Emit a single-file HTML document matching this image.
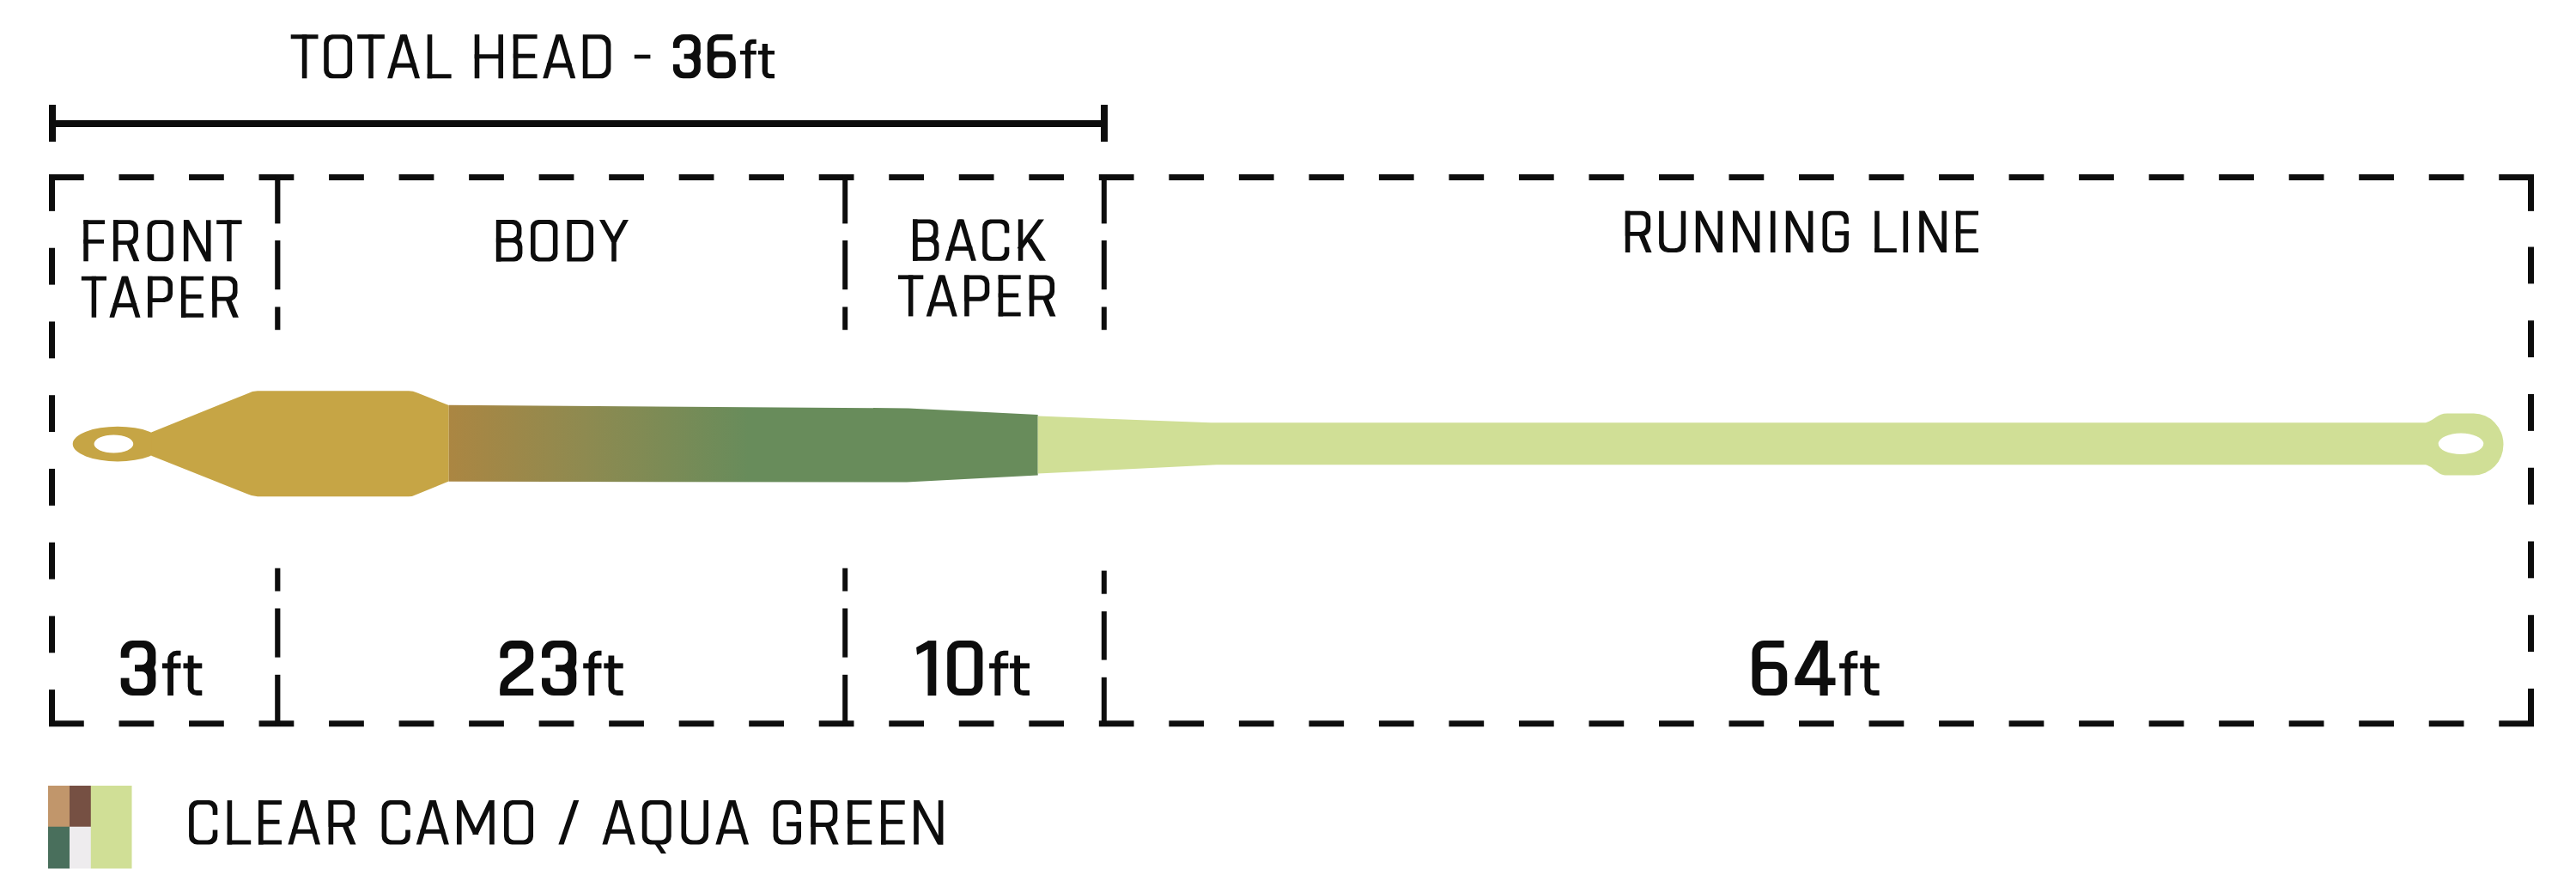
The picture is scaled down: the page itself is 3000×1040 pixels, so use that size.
<!DOCTYPE html><html><head><meta charset="utf-8"><style>html,body{margin:0;padding:0;background:#fff;}svg{display:block;}</style></head><body><svg width="3000" height="1040" viewBox="0 0 3000 1040"><rect width="3000" height="1040" fill="#fff"/><path d="M57 122H65V165H57Z" fill="#0d0d0d"/><path d="M1282 122H1290V165H1282Z" fill="#0d0d0d"/><path d="M64 140H1283V148H64Z" fill="#0d0d0d"/><path d="M57 203H97.76V210H57Z" fill="#0d0d0d"/><path d="M57 839.3H97.76V846.3H57Z" fill="#0d0d0d"/><path d="M138.52 203H179.28V210H138.52Z" fill="#0d0d0d"/><path d="M138.52 839.3H179.28V846.3H138.52Z" fill="#0d0d0d"/><path d="M220.04 203H260.8V210H220.04Z" fill="#0d0d0d"/><path d="M220.04 839.3H260.8V846.3H220.04Z" fill="#0d0d0d"/><path d="M301.56 203H342.32V210H301.56Z" fill="#0d0d0d"/><path d="M301.56 839.3H342.32V846.3H301.56Z" fill="#0d0d0d"/><path d="M383.08 203H423.85V210H383.08Z" fill="#0d0d0d"/><path d="M383.08 839.3H423.85V846.3H383.08Z" fill="#0d0d0d"/><path d="M464.61 203H505.37V210H464.61Z" fill="#0d0d0d"/><path d="M464.61 839.3H505.37V846.3H464.61Z" fill="#0d0d0d"/><path d="M546.13 203H586.89V210H546.13Z" fill="#0d0d0d"/><path d="M546.13 839.3H586.89V846.3H546.13Z" fill="#0d0d0d"/><path d="M627.65 203H668.41V210H627.65Z" fill="#0d0d0d"/><path d="M627.65 839.3H668.41V846.3H627.65Z" fill="#0d0d0d"/><path d="M709.17 203H749.93V210H709.17Z" fill="#0d0d0d"/><path d="M709.17 839.3H749.93V846.3H709.17Z" fill="#0d0d0d"/><path d="M790.69 203H831.45V210H790.69Z" fill="#0d0d0d"/><path d="M790.69 839.3H831.45V846.3H790.69Z" fill="#0d0d0d"/><path d="M872.21 203H912.97V210H872.21Z" fill="#0d0d0d"/><path d="M872.21 839.3H912.97V846.3H872.21Z" fill="#0d0d0d"/><path d="M953.73 203H994.49V210H953.73Z" fill="#0d0d0d"/><path d="M953.73 839.3H994.49V846.3H953.73Z" fill="#0d0d0d"/><path d="M1035.25 203H1076.01V210H1035.25Z" fill="#0d0d0d"/><path d="M1035.25 839.3H1076.01V846.3H1035.25Z" fill="#0d0d0d"/><path d="M1116.77 203H1157.54V210H1116.77Z" fill="#0d0d0d"/><path d="M1116.77 839.3H1157.54V846.3H1116.77Z" fill="#0d0d0d"/><path d="M1198.3 203H1239.06V210H1198.3Z" fill="#0d0d0d"/><path d="M1198.3 839.3H1239.06V846.3H1198.3Z" fill="#0d0d0d"/><path d="M1279.82 203H1320.58V210H1279.82Z" fill="#0d0d0d"/><path d="M1279.82 839.3H1320.58V846.3H1279.82Z" fill="#0d0d0d"/><path d="M1361.34 203H1402.1V210H1361.34Z" fill="#0d0d0d"/><path d="M1361.34 839.3H1402.1V846.3H1361.34Z" fill="#0d0d0d"/><path d="M1442.86 203H1483.62V210H1442.86Z" fill="#0d0d0d"/><path d="M1442.86 839.3H1483.62V846.3H1442.86Z" fill="#0d0d0d"/><path d="M1524.38 203H1565.14V210H1524.38Z" fill="#0d0d0d"/><path d="M1524.38 839.3H1565.14V846.3H1524.38Z" fill="#0d0d0d"/><path d="M1605.9 203H1646.66V210H1605.9Z" fill="#0d0d0d"/><path d="M1605.9 839.3H1646.66V846.3H1605.9Z" fill="#0d0d0d"/><path d="M1687.42 203H1728.18V210H1687.42Z" fill="#0d0d0d"/><path d="M1687.42 839.3H1728.18V846.3H1687.42Z" fill="#0d0d0d"/><path d="M1768.94 203H1809.7V210H1768.94Z" fill="#0d0d0d"/><path d="M1768.94 839.3H1809.7V846.3H1768.94Z" fill="#0d0d0d"/><path d="M1850.46 203H1891.23V210H1850.46Z" fill="#0d0d0d"/><path d="M1850.46 839.3H1891.23V846.3H1850.46Z" fill="#0d0d0d"/><path d="M1931.99 203H1972.75V210H1931.99Z" fill="#0d0d0d"/><path d="M1931.99 839.3H1972.75V846.3H1931.99Z" fill="#0d0d0d"/><path d="M2013.51 203H2054.27V210H2013.51Z" fill="#0d0d0d"/><path d="M2013.51 839.3H2054.27V846.3H2013.51Z" fill="#0d0d0d"/><path d="M2095.03 203H2135.79V210H2095.03Z" fill="#0d0d0d"/><path d="M2095.03 839.3H2135.79V846.3H2095.03Z" fill="#0d0d0d"/><path d="M2176.55 203H2217.31V210H2176.55Z" fill="#0d0d0d"/><path d="M2176.55 839.3H2217.31V846.3H2176.55Z" fill="#0d0d0d"/><path d="M2258.07 203H2298.83V210H2258.07Z" fill="#0d0d0d"/><path d="M2258.07 839.3H2298.83V846.3H2258.07Z" fill="#0d0d0d"/><path d="M2339.59 203H2380.35V210H2339.59Z" fill="#0d0d0d"/><path d="M2339.59 839.3H2380.35V846.3H2339.59Z" fill="#0d0d0d"/><path d="M2421.11 203H2461.87V210H2421.11Z" fill="#0d0d0d"/><path d="M2421.11 839.3H2461.87V846.3H2421.11Z" fill="#0d0d0d"/><path d="M2502.63 203H2543.39V210H2502.63Z" fill="#0d0d0d"/><path d="M2502.63 839.3H2543.39V846.3H2502.63Z" fill="#0d0d0d"/><path d="M2584.15 203H2624.92V210H2584.15Z" fill="#0d0d0d"/><path d="M2584.15 839.3H2624.92V846.3H2584.15Z" fill="#0d0d0d"/><path d="M2665.68 203H2706.44V210H2665.68Z" fill="#0d0d0d"/><path d="M2665.68 839.3H2706.44V846.3H2665.68Z" fill="#0d0d0d"/><path d="M2747.2 203H2787.96V210H2747.2Z" fill="#0d0d0d"/><path d="M2747.2 839.3H2787.96V846.3H2747.2Z" fill="#0d0d0d"/><path d="M2828.72 203H2869.48V210H2828.72Z" fill="#0d0d0d"/><path d="M2828.72 839.3H2869.48V846.3H2828.72Z" fill="#0d0d0d"/><path d="M2910.24 203H2951V210H2910.24Z" fill="#0d0d0d"/><path d="M2910.24 839.3H2951V846.3H2910.24Z" fill="#0d0d0d"/><path d="M57 203H64V245.87H57Z" fill="#0d0d0d"/><path d="M2944 203H2951V245.87H2944Z" fill="#0d0d0d"/><path d="M57 288.73H64V331.6H57Z" fill="#0d0d0d"/><path d="M2944 287.53H2951V330.4H2944Z" fill="#0d0d0d"/><path d="M57 374.47H64V417.33H57Z" fill="#0d0d0d"/><path d="M2944 373.27H2951V416.13H2944Z" fill="#0d0d0d"/><path d="M57 460.2H64V503.07H57Z" fill="#0d0d0d"/><path d="M2944 459H2951V501.87H2944Z" fill="#0d0d0d"/><path d="M57 545.93H64V588.8H57Z" fill="#0d0d0d"/><path d="M2944 544.73H2951V587.6H2944Z" fill="#0d0d0d"/><path d="M57 631.67H64V674.53H57Z" fill="#0d0d0d"/><path d="M2944 630.47H2951V673.33H2944Z" fill="#0d0d0d"/><path d="M57 717.4H64V760.27H57Z" fill="#0d0d0d"/><path d="M2944 716.2H2951V759.07H2944Z" fill="#0d0d0d"/><path d="M57 803.13H64V846H57Z" fill="#0d0d0d"/><path d="M2944 801.93H2951V846H2944Z" fill="#0d0d0d"/><path d="M320.2 203H326.4V260.4H320.2Z" fill="#0d0d0d"/><path d="M320.2 280H326.4V337.2H320.2Z" fill="#0d0d0d"/><path d="M320.2 357.4H326.4V384.2H320.2Z" fill="#0d0d0d"/><path d="M320.2 661.7H326.4V688.5H320.2Z" fill="#0d0d0d"/><path d="M320.2 708.5H326.4V765.6H320.2Z" fill="#0d0d0d"/><path d="M320.2 785.8H326.4V846H320.2Z" fill="#0d0d0d"/><path d="M981.2 203H987.2V260.4H981.2Z" fill="#0d0d0d"/><path d="M981.2 280H987.2V337.2H981.2Z" fill="#0d0d0d"/><path d="M981.2 357.4H987.2V384.2H981.2Z" fill="#0d0d0d"/><path d="M981.2 661.7H987.2V688.5H981.2Z" fill="#0d0d0d"/><path d="M981.2 708.5H987.2V765.6H981.2Z" fill="#0d0d0d"/><path d="M981.2 785.8H987.2V846H981.2Z" fill="#0d0d0d"/><path d="M1282.8 203H1288.8V260.4H1282.8Z" fill="#0d0d0d"/><path d="M1282.8 280H1288.8V337.2H1282.8Z" fill="#0d0d0d"/><path d="M1282.8 357.4H1288.8V384.2H1282.8Z" fill="#0d0d0d"/><path d="M1282.8 664.6H1288.8V691.7H1282.8Z" fill="#0d0d0d"/><path d="M1282.8 712H1288.8V768.6H1282.8Z" fill="#0d0d0d"/><path d="M1282.8 788.8H1288.8V846H1282.8Z" fill="#0d0d0d"/><defs><linearGradient id="bg" gradientUnits="userSpaceOnUse" x1="523" y1="0" x2="872" y2="0"><stop offset="0" stop-color="#ab8642"/><stop offset="0.45" stop-color="#8e8a50"/><stop offset="1" stop-color="#688c5b"/></linearGradient></defs><path d="M137 496.8A52.3 20.3 0 1 0 137 537.4A52.3 20.3 0 1 0 137 496.8Z M132.4 506.5A22.85 10.5 0 1 0 132.4 527.5A22.85 10.5 0 1 0 132.4 506.5Z" fill="#c6a545" fill-rule="evenodd"/><path d="M176.2 503.5L288 458.4Q294 455.2 300 455.2H476Q481 455.2 486 457.6L522.7 471.9V560.6L486 575.5Q481 578.2 476 578.2H300Q294 578.2 288 575.3L176.2 530.8Z" fill="#c6a545"/><path d="M522.7 471.8L1058 475.4L1208.7 482.9V553.4L1056 561.6L522.7 560.8Z" fill="url(#bg)"/><path d="M1208.7 484.6L1410 492.3H2825C2837 488.5 2838 481.6 2850 481.6H2881A34.5 36 0 0 1 2915.5 517.6A34.5 36 0 0 1 2881 553.6H2850C2838 553.6 2837 545.3 2825 541.3H1417L1208.7 551.6Z M2866 504.6A26.3 12.2 0 1 0 2866 529A26.3 12.2 0 1 0 2866 504.6Z" fill="#d0df96" fill-rule="evenodd"/><path d="M56 915H81.2V963H56Z" fill="#c1966b"/><path d="M81 915H106V963H81Z" fill="#765043"/><path d="M56 962.8H81.2V1011.4H56Z" fill="#496f5c"/><path d="M81 962.8H106V1011.4H81Z" fill="#eeecee"/><path d="M105.8 915H153.5V1011.4H105.8Z" fill="#d0df96"/><path d="M338.7 40.15H370.5V45.15H338.7Z" fill="#0d0d0d"/><path d="M351.8 40.15H357.4V91.27H351.8Z" fill="#0d0d0d"/><path d="M386.7 40.15H400.6A9.5 9.5 0 0 1 410.1 49.65V81.77A9.5 9.5 0 0 1 400.6 91.27H386.7A9.5 9.5 0 0 1 377.2 81.77V49.65A9.5 9.5 0 0 1 386.7 40.15ZM388.94 45.15H398.36A6.14 6.14 0 0 1 404.5 51.29V80.13A6.14 6.14 0 0 1 398.36 86.27H388.94A6.14 6.14 0 0 1 382.8 80.13V51.29A6.14 6.14 0 0 1 388.94 45.15Z" fill="#0d0d0d" fill-rule="evenodd"/><path d="M416.2 40.15H447.85V45.15H416.2Z" fill="#0d0d0d"/><path d="M429.22 40.15H434.82V91.27H429.22Z" fill="#0d0d0d"/><path d="M451.1 91.27L466.26 40.15L472.1 40.15L456.94 91.27Z" fill="#0d0d0d"/><path d="M489 91.27L473.84 40.15L468 40.15L483.16 91.27Z" fill="#0d0d0d"/><path d="M455.83 73.69H484.27V78.69H455.83Z" fill="#0d0d0d"/><path d="M497.7 40.15H503.3V91.27H497.7Z" fill="#0d0d0d"/><path d="M497.7 86.27H525.6V91.27H497.7Z" fill="#0d0d0d"/><path d="M552.7 40.15H558.3V91.27H552.7Z" fill="#0d0d0d"/><path d="M580.4 40.15H586V91.27H580.4Z" fill="#0d0d0d"/><path d="M552.7 63.21H586V68.21H552.7Z" fill="#0d0d0d"/><path d="M597.8 40.15H603.4V91.27H597.8Z" fill="#0d0d0d"/><path d="M597.8 40.15H625.6V45.15H597.8Z" fill="#0d0d0d"/><path d="M597.8 86.27H625.6V91.27H597.8Z" fill="#0d0d0d"/><path d="M597.8 62.7H623.1V67.7H597.8Z" fill="#0d0d0d"/><path d="M632.2 91.27L647.44 40.15L653.28 40.15L638.04 91.27Z" fill="#0d0d0d"/><path d="M670.3 91.27L655.06 40.15L649.22 40.15L664.46 91.27Z" fill="#0d0d0d"/><path d="M636.95 73.69H665.55V78.69H636.95Z" fill="#0d0d0d"/><path d="M678.8 40.15H699.9A11.5 11.5 0 0 1 711.4 51.65V79.77A11.5 11.5 0 0 1 699.9 91.27H678.8V40.15ZM684.4 45.15H697.66A8.14 8.14 0 0 1 705.8 53.29V78.13A8.14 8.14 0 0 1 697.66 86.27H684.4V45.15Z" fill="#0d0d0d" fill-rule="evenodd"/><path d="M738.8 63.7H757.4V68.3H738.8Z" fill="#0d0d0d"/><path d="M795.9 40H803.8A12 12 0 0 1 815.8 52V79.25A12 12 0 0 1 803.8 91.25H795.9A12 12 0 0 1 783.9 79.25V52A12 12 0 0 1 795.9 40ZM797.8 46.7H801.9A6.3 6.3 0 0 1 808.2 53V56.53A6.3 6.3 0 0 1 801.9 62.83H797.8A6.3 6.3 0 0 1 791.5 56.53V53A6.3 6.3 0 0 1 797.8 46.7ZM797.8 68.42H801.9A6.3 6.3 0 0 1 808.2 74.72V78.25A6.3 6.3 0 0 1 801.9 84.55H797.8A6.3 6.3 0 0 1 791.5 78.25V74.72A6.3 6.3 0 0 1 797.8 68.42Z" fill="#0d0d0d" fill-rule="evenodd"/><path d="M782.9 55.89H796.66V74.85H782.9Z" fill="#ffffff"/><path d="M816.8 60.02L814.44 64.82L814.44 66.43L816.8 71.23Z" fill="#ffffff"/><path d="M853.2 40H835.8A12 12 0 0 0 823.8 52V79.25A12 12 0 0 0 835.8 91.25H844.8A12 12 0 0 0 856.8 79.25V71.73A12 12 0 0 0 844.8 59.73H831.4V51.1A4.4 4.4 0 0 1 835.8 46.7H853.2Z" fill="#0d0d0d"/><path d="M835.8 66.43H844.8A4.4 4.4 0 0 1 849.2 70.83V80.15A4.4 4.4 0 0 1 844.8 84.55H835.8A4.4 4.4 0 0 1 831.4 80.15V70.83A4.4 4.4 0 0 1 835.8 66.43Z" fill="#ffffff"/><path d="M867.9 91.25V53.8A8 8 0 0 1 875.9 45.8H880.8V51H877.2A3 3 0 0 0 874.2 54V91.25Z" fill="#0d0d0d"/><path d="M862 59H880.8V63.5H862Z" fill="#0d0d0d"/><path d="M887.7 51H894V83.05A3 3 0 0 0 897 86.05H902V91.25H895.7A8 8 0 0 1 887.7 83.25Z" fill="#0d0d0d"/><path d="M882.9 59H902V63.5H882.9Z" fill="#0d0d0d"/><path d="M97.3 256.3H102.8V304.3H97.3Z" fill="#0d0d0d"/><path d="M97.3 256.3H122V261.1H97.3Z" fill="#0d0d0d"/><path d="M97.3 278.86H121V283.66H97.3Z" fill="#0d0d0d"/><path d="M132 256.3H137.5V304.3H132Z" fill="#0d0d0d"/><path d="M132 256.3H151.4A9.5 9.5 0 0 1 160.9 265.8V275.6A9.5 9.5 0 0 1 151.4 285.1H132V256.3ZM137.5 261.1H149.2A6.2 6.2 0 0 1 155.4 267.3V274.1A6.2 6.2 0 0 1 149.2 280.3H137.5V261.1Z" fill="#0d0d0d" fill-rule="evenodd"/><path d="M147 283.1L153.68 283.1L162.3 304.3L155.62 304.3Z" fill="#0d0d0d"/><path d="M180.6 256.3H192.8A9 9 0 0 1 201.8 265.3V295.3A9 9 0 0 1 192.8 304.3H180.6A9 9 0 0 1 171.6 295.3V265.3A9 9 0 0 1 180.6 256.3ZM182.8 261.1H190.6A5.7 5.7 0 0 1 196.3 266.8V293.8A5.7 5.7 0 0 1 190.6 299.5H182.8A5.7 5.7 0 0 1 177.1 293.8V266.8A5.7 5.7 0 0 1 182.8 261.1Z" fill="#0d0d0d" fill-rule="evenodd"/><path d="M213.9 256.3H219.4V304.3H213.9Z" fill="#0d0d0d"/><path d="M240 256.3H245.5V304.3H240Z" fill="#0d0d0d"/><path d="M213.9 256.3L220.16 256.3L245.5 304.3L239.24 304.3Z" fill="#0d0d0d"/><path d="M252.2 256.3H281.6V261.1H252.2Z" fill="#0d0d0d"/><path d="M264.15 256.3H269.65V304.3H264.15Z" fill="#0d0d0d"/><path d="M94.8 321.8H124V326.6H94.8Z" fill="#0d0d0d"/><path d="M106.65 321.8H112.15V369.7H106.65Z" fill="#0d0d0d"/><path d="M127.4 369.7L141.84 321.8L147.58 321.8L133.14 369.7Z" fill="#0d0d0d"/><path d="M163.5 369.7L149.06 321.8L143.32 321.8L157.76 369.7Z" fill="#0d0d0d"/><path d="M131.94 353.17H158.96V357.97H131.94Z" fill="#0d0d0d"/><path d="M172 321.8H177.5V369.7H172Z" fill="#0d0d0d"/><path d="M172 321.8H191.5A9.5 9.5 0 0 1 201 331.3V342.48A9.5 9.5 0 0 1 191.5 351.98H172V321.8ZM177.5 326.6H189.3A6.2 6.2 0 0 1 195.5 332.8V340.98A6.2 6.2 0 0 1 189.3 347.18H177.5V326.6Z" fill="#0d0d0d" fill-rule="evenodd"/><path d="M211 321.8H216.5V369.7H211Z" fill="#0d0d0d"/><path d="M211 321.8H237V326.6H211Z" fill="#0d0d0d"/><path d="M211 364.9H237V369.7H211Z" fill="#0d0d0d"/><path d="M211 342.87H234.5V347.67H211Z" fill="#0d0d0d"/><path d="M247.2 321.8H252.7V369.7H247.2Z" fill="#0d0d0d"/><path d="M247.2 321.8H267A9.5 9.5 0 0 1 276.5 331.3V341.04A9.5 9.5 0 0 1 267 350.54H247.2V321.8ZM252.7 326.6H264.8A6.2 6.2 0 0 1 271 332.8V339.54A6.2 6.2 0 0 1 264.8 345.74H252.7V326.6Z" fill="#0d0d0d" fill-rule="evenodd"/><path d="M262.4 348.54L269.12 348.54L277.9 369.7L271.18 369.7Z" fill="#0d0d0d"/><path d="M577.9 256.1H583.4V304.5H577.9Z" fill="#0d0d0d"/><path d="M577.9 256.1H597.9A9.5 9.5 0 0 1 607.4 265.6V272.72A9.5 9.5 0 0 1 597.9 282.22H577.9V256.1ZM583.4 260.9H595.7A6.2 6.2 0 0 1 601.9 267.1V271.22A6.2 6.2 0 0 1 595.7 277.42H583.4V260.9Z" fill="#0d0d0d" fill-rule="evenodd"/><path d="M577.9 277.42H598.9A9.5 9.5 0 0 1 608.4 286.92V295A9.5 9.5 0 0 1 598.9 304.5H577.9V277.42ZM583.4 282.22H596.7A6.2 6.2 0 0 1 602.9 288.42V293.5A6.2 6.2 0 0 1 596.7 299.7H583.4V282.22Z" fill="#0d0d0d" fill-rule="evenodd"/><path d="M627 256.1H640.4A9 9 0 0 1 649.4 265.1V295.5A9 9 0 0 1 640.4 304.5H627A9 9 0 0 1 618 295.5V265.1A9 9 0 0 1 627 256.1ZM629.2 260.9H638.2A5.7 5.7 0 0 1 643.9 266.6V294A5.7 5.7 0 0 1 638.2 299.7H629.2A5.7 5.7 0 0 1 623.5 294V266.6A5.7 5.7 0 0 1 629.2 260.9Z" fill="#0d0d0d" fill-rule="evenodd"/><path d="M660.4 256.1H680A11 11 0 0 1 691 267.1V293.5A11 11 0 0 1 680 304.5H660.4V256.1ZM665.9 260.9H677.8A7.7 7.7 0 0 1 685.5 268.6V292A7.7 7.7 0 0 1 677.8 299.7H665.9V260.9Z" fill="#0d0d0d" fill-rule="evenodd"/><path d="M698 256.1L704.28 256.1L718.53 281.99L712.25 281.99Z" fill="#0d0d0d"/><path d="M732 256.1L725.72 256.1L711.47 281.99L717.75 281.99Z" fill="#0d0d0d"/><path d="M712.25 280.99H717.75V304.5H712.25Z" fill="#0d0d0d"/><path d="M1063 255.4H1068.5V303.8H1063Z" fill="#0d0d0d"/><path d="M1063 255.4H1083A9.5 9.5 0 0 1 1092.5 264.9V272.02A9.5 9.5 0 0 1 1083 281.52H1063V255.4ZM1068.5 260.2H1080.8A6.2 6.2 0 0 1 1087 266.4V270.52A6.2 6.2 0 0 1 1080.8 276.72H1068.5V260.2Z" fill="#0d0d0d" fill-rule="evenodd"/><path d="M1063 276.72H1084A9.5 9.5 0 0 1 1093.5 286.22V294.3A9.5 9.5 0 0 1 1084 303.8H1063V276.72ZM1068.5 281.52H1081.8A6.2 6.2 0 0 1 1088 287.72V292.8A6.2 6.2 0 0 1 1081.8 299H1068.5V281.52Z" fill="#0d0d0d" fill-rule="evenodd"/><path d="M1100.7 303.8L1115.18 255.4L1120.92 255.4L1106.44 303.8Z" fill="#0d0d0d"/><path d="M1136.9 303.8L1122.42 255.4L1116.68 255.4L1131.16 303.8Z" fill="#0d0d0d"/><path d="M1105.25 287.12H1132.35V291.92H1105.25Z" fill="#0d0d0d"/><path d="M1153.2 255.4H1166.3A9 9 0 0 1 1175.3 264.4V294.8A9 9 0 0 1 1166.3 303.8H1153.2A9 9 0 0 1 1144.2 294.8V264.4A9 9 0 0 1 1153.2 255.4ZM1155.4 260.2H1164.1A5.7 5.7 0 0 1 1169.8 265.9V293.3A5.7 5.7 0 0 1 1164.1 299H1155.4A5.7 5.7 0 0 1 1149.7 293.3V265.9A5.7 5.7 0 0 1 1155.4 260.2Z" fill="#0d0d0d" fill-rule="evenodd"/><path d="M1168.8 271.37H1176.3V287.83H1168.8Z" fill="#ffffff"/><path d="M1185.8 255.4H1191.3V303.8H1185.8Z" fill="#0d0d0d"/><path d="M1209.19 255.4L1216 255.4L1191.3 289.28L1184.49 289.28Z" fill="#0d0d0d"/><path d="M1194.43 278.15L1201.68 278.15L1218 303.8L1210.76 303.8Z" fill="#0d0d0d"/><path d="M1046 320.4H1075.3V325.2H1046Z" fill="#0d0d0d"/><path d="M1057.9 320.4H1063.4V368.4H1057.9Z" fill="#0d0d0d"/><path d="M1078.7 368.4L1093.14 320.4L1098.88 320.4L1084.44 368.4Z" fill="#0d0d0d"/><path d="M1114.8 368.4L1100.36 320.4L1094.62 320.4L1109.06 368.4Z" fill="#0d0d0d"/><path d="M1083.24 351.84H1110.26V356.64H1083.24Z" fill="#0d0d0d"/><path d="M1123.2 320.4H1128.7V368.4H1123.2Z" fill="#0d0d0d"/><path d="M1123.2 320.4H1142.8A9.5 9.5 0 0 1 1152.3 329.9V341.14A9.5 9.5 0 0 1 1142.8 350.64H1123.2V320.4ZM1128.7 325.2H1140.6A6.2 6.2 0 0 1 1146.8 331.4V339.64A6.2 6.2 0 0 1 1140.6 345.84H1128.7V325.2Z" fill="#0d0d0d" fill-rule="evenodd"/><path d="M1162.7 320.4H1168.2V368.4H1162.7Z" fill="#0d0d0d"/><path d="M1162.7 320.4H1188.7V325.2H1162.7Z" fill="#0d0d0d"/><path d="M1162.7 363.6H1188.7V368.4H1162.7Z" fill="#0d0d0d"/><path d="M1162.7 341.52H1186.2V346.32H1162.7Z" fill="#0d0d0d"/><path d="M1198.8 320.4H1204.3V368.4H1198.8Z" fill="#0d0d0d"/><path d="M1198.8 320.4H1218.6A9.5 9.5 0 0 1 1228.1 329.9V339.7A9.5 9.5 0 0 1 1218.6 349.2H1198.8V320.4ZM1204.3 325.2H1216.4A6.2 6.2 0 0 1 1222.6 331.4V338.2A6.2 6.2 0 0 1 1216.4 344.4H1204.3V325.2Z" fill="#0d0d0d" fill-rule="evenodd"/><path d="M1214 347.2L1220.71 347.2L1229.5 368.4L1222.78 368.4Z" fill="#0d0d0d"/><path d="M1892.8 245.7H1898.3V294H1892.8Z" fill="#0d0d0d"/><path d="M1892.8 245.7H1912.7A9.5 9.5 0 0 1 1922.2 255.2V265.18A9.5 9.5 0 0 1 1912.7 274.68H1892.8V245.7ZM1898.3 250.5H1910.5A6.2 6.2 0 0 1 1916.7 256.7V263.68A6.2 6.2 0 0 1 1910.5 269.88H1898.3V250.5Z" fill="#0d0d0d" fill-rule="evenodd"/><path d="M1908.05 272.68L1914.75 272.68L1923.6 294L1916.89 294Z" fill="#0d0d0d"/><path d="M1932.1 245.7V283.5A10.5 10.5 0 0 0 1942.6 294H1952.7A10.5 10.5 0 0 0 1963.2 283.5V245.7H1957.7V281.72A7.47 7.47 0 0 1 1950.23 289.2H1945.07A7.47 7.47 0 0 1 1937.6 281.72V245.7Z" fill="#0d0d0d"/><path d="M1974.8 245.7H1980.3V294H1974.8Z" fill="#0d0d0d"/><path d="M2000.5 245.7H2006V294H2000.5Z" fill="#0d0d0d"/><path d="M1974.8 245.7L1981.03 245.7L2006 294L1999.77 294Z" fill="#0d0d0d"/><path d="M2018 245.7H2023.5V294H2018Z" fill="#0d0d0d"/><path d="M2043.9 245.7H2049.4V294H2043.9Z" fill="#0d0d0d"/><path d="M2018 245.7L2024.24 245.7L2049.4 294L2043.16 294Z" fill="#0d0d0d"/><path d="M2061.9 245.7H2067.5V294H2061.9Z" fill="#0d0d0d"/><path d="M2079.8 245.7H2085.3V294H2079.8Z" fill="#0d0d0d"/><path d="M2105.9 245.7H2111.4V294H2105.9Z" fill="#0d0d0d"/><path d="M2079.8 245.7L2086.05 245.7L2111.4 294L2105.15 294Z" fill="#0d0d0d"/><path d="M2131.5 245.7H2143.9A9 9 0 0 1 2152.9 254.7V285A9 9 0 0 1 2143.9 294H2131.5A9 9 0 0 1 2122.5 285V254.7A9 9 0 0 1 2131.5 245.7ZM2133.7 250.5H2141.7A5.7 5.7 0 0 1 2147.4 256.2V283.5A5.7 5.7 0 0 1 2141.7 289.2H2133.7A5.7 5.7 0 0 1 2128 283.5V256.2A5.7 5.7 0 0 1 2133.7 250.5Z" fill="#0d0d0d" fill-rule="evenodd"/><path d="M2146.4 260.67H2153.9V269.37H2146.4Z" fill="#ffffff"/><path d="M2137.09 269.37H2152.9V274.17H2137.09Z" fill="#0d0d0d"/><path d="M2183.2 245.7H2188.7V294H2183.2Z" fill="#0d0d0d"/><path d="M2183.2 289.2H2208.8V294H2183.2Z" fill="#0d0d0d"/><path d="M2216.5 245.7H2222.1V294H2216.5Z" fill="#0d0d0d"/><path d="M2235.2 245.7H2240.7V294H2235.2Z" fill="#0d0d0d"/><path d="M2261.4 245.7H2266.9V294H2261.4Z" fill="#0d0d0d"/><path d="M2235.2 245.7L2241.46 245.7L2266.9 294L2260.64 294Z" fill="#0d0d0d"/><path d="M2277.9 245.7H2283.4V294H2277.9Z" fill="#0d0d0d"/><path d="M2277.9 245.7H2304V250.5H2277.9Z" fill="#0d0d0d"/><path d="M2277.9 289.2H2304V294H2277.9Z" fill="#0d0d0d"/><path d="M2277.9 266.97H2301.5V271.77H2277.9Z" fill="#0d0d0d"/><path d="M229.6 932.1H243.8A9.5 9.5 0 0 1 253.3 941.6V974A9.5 9.5 0 0 1 243.8 983.5H229.6A9.5 9.5 0 0 1 220.1 974V941.6A9.5 9.5 0 0 1 229.6 932.1ZM231.84 937.1H241.56A6.14 6.14 0 0 1 247.7 943.24V972.36A6.14 6.14 0 0 1 241.56 978.5H231.84A6.14 6.14 0 0 1 225.7 972.36V943.24A6.14 6.14 0 0 1 231.84 937.1Z" fill="#0d0d0d" fill-rule="evenodd"/><path d="M246.7 949.06H254.3V966.54H246.7Z" fill="#ffffff"/><path d="M264.6 932.1H270.2V983.5H264.6Z" fill="#0d0d0d"/><path d="M264.6 978.5H292.2V983.5H264.6Z" fill="#0d0d0d"/><path d="M301 932.1H306.6V983.5H301Z" fill="#0d0d0d"/><path d="M301 932.1H328V937.1H301Z" fill="#0d0d0d"/><path d="M301 978.5H328V983.5H301Z" fill="#0d0d0d"/><path d="M301 954.79H325.5V959.79H301Z" fill="#0d0d0d"/><path d="M335.4 983.5L350.44 932.1L356.27 932.1L341.23 983.5Z" fill="#0d0d0d"/><path d="M373 983.5L357.96 932.1L352.13 932.1L367.17 983.5Z" fill="#0d0d0d"/><path d="M340.11 965.84H368.29V970.84H340.11Z" fill="#0d0d0d"/><path d="M382.6 932.1H388.2V983.5H382.6Z" fill="#0d0d0d"/><path d="M382.6 932.1H403.1A10 10 0 0 1 413.1 942.1V952.94A10 10 0 0 1 403.1 962.94H382.6V932.1ZM388.2 937.1H400.86A6.64 6.64 0 0 1 407.5 943.74V951.3A6.64 6.64 0 0 1 400.86 957.94H388.2V937.1Z" fill="#0d0d0d" fill-rule="evenodd"/><path d="M398.39 960.94L405.15 960.94L414.5 983.5L407.74 983.5Z" fill="#0d0d0d"/><path d="M454.1 932.1H468.3A9.5 9.5 0 0 1 477.8 941.6V974A9.5 9.5 0 0 1 468.3 983.5H454.1A9.5 9.5 0 0 1 444.6 974V941.6A9.5 9.5 0 0 1 454.1 932.1ZM456.34 937.1H466.06A6.14 6.14 0 0 1 472.2 943.24V972.36A6.14 6.14 0 0 1 466.06 978.5H456.34A6.14 6.14 0 0 1 450.2 972.36V943.24A6.14 6.14 0 0 1 456.34 937.1Z" fill="#0d0d0d" fill-rule="evenodd"/><path d="M471.2 949.06H478.8V966.54H471.2Z" fill="#ffffff"/><path d="M484.8 983.5L500.04 932.1L505.88 932.1L490.64 983.5Z" fill="#0d0d0d"/><path d="M522.9 983.5L507.66 932.1L501.82 932.1L517.06 983.5Z" fill="#0d0d0d"/><path d="M489.55 965.84H518.15V970.84H489.55Z" fill="#0d0d0d"/><path d="M532 932.1H537.6V983.5H532Z" fill="#0d0d0d"/><path d="M570.1 932.1H575.7V983.5H570.1Z" fill="#0d0d0d"/><path d="M532 932.1L538.22 932.1L557.47 971.94L551.25 971.94Z" fill="#0d0d0d"/><path d="M575.7 932.1L569.48 932.1L550.23 971.94L556.45 971.94Z" fill="#0d0d0d"/><path d="M596.5 932.1H611.5A9.5 9.5 0 0 1 621 941.6V974A9.5 9.5 0 0 1 611.5 983.5H596.5A9.5 9.5 0 0 1 587 974V941.6A9.5 9.5 0 0 1 596.5 932.1ZM598.74 937.1H609.26A6.14 6.14 0 0 1 615.4 943.24V972.36A6.14 6.14 0 0 1 609.26 978.5H598.74A6.14 6.14 0 0 1 592.6 972.36V943.24A6.14 6.14 0 0 1 598.74 937.1Z" fill="#0d0d0d" fill-rule="evenodd"/><path d="M650.4 983.5L656.57 983.5L674.2 932.1L668.03 932.1Z" fill="#0d0d0d"/><path d="M701.4 983.5L716.76 932.1L722.6 932.1L707.24 983.5Z" fill="#0d0d0d"/><path d="M739.8 983.5L724.44 932.1L718.6 932.1L733.96 983.5Z" fill="#0d0d0d"/><path d="M706.18 965.84H735.02V970.84H706.18Z" fill="#0d0d0d"/><path d="M757.3 932.1H772.2A9.5 9.5 0 0 1 781.7 941.6V974A9.5 9.5 0 0 1 772.2 983.5H757.3A9.5 9.5 0 0 1 747.8 974V941.6A9.5 9.5 0 0 1 757.3 932.1ZM759.54 937.1H769.96A6.14 6.14 0 0 1 776.1 943.24V972.36A6.14 6.14 0 0 1 769.96 978.5H759.54A6.14 6.14 0 0 1 753.4 972.36V943.24A6.14 6.14 0 0 1 759.54 937.1Z" fill="#0d0d0d" fill-rule="evenodd"/><path d="M760.25 979.5L766.25 979.5L775.95 994L769.95 994Z" fill="#0d0d0d"/><path d="M793.5 932.1V972.5A11 11 0 0 0 804.5 983.5H814A11 11 0 0 0 825 972.5V932.1H819.4V970.58A7.92 7.92 0 0 1 811.48 978.5H807.02A7.92 7.92 0 0 1 799.1 970.58V932.1Z" fill="#0d0d0d"/><path d="M833.4 983.5L848.84 932.1L854.69 932.1L839.25 983.5Z" fill="#0d0d0d"/><path d="M872 983.5L856.56 932.1L850.71 932.1L866.15 983.5Z" fill="#0d0d0d"/><path d="M838.2 965.84H867.2V970.84H838.2Z" fill="#0d0d0d"/><path d="M910.1 932.1H923.5A9.5 9.5 0 0 1 933 941.6V974A9.5 9.5 0 0 1 923.5 983.5H910.1A9.5 9.5 0 0 1 900.6 974V941.6A9.5 9.5 0 0 1 910.1 932.1ZM912.34 937.1H921.26A6.14 6.14 0 0 1 927.4 943.24V972.36A6.14 6.14 0 0 1 921.26 978.5H912.34A6.14 6.14 0 0 1 906.2 972.36V943.24A6.14 6.14 0 0 1 912.34 937.1Z" fill="#0d0d0d" fill-rule="evenodd"/><path d="M926.4 948.03H934V957.29H926.4Z" fill="#ffffff"/><path d="M916.15 957.29H933V962.29H916.15Z" fill="#0d0d0d"/><path d="M944.3 932.1H949.9V983.5H944.3Z" fill="#0d0d0d"/><path d="M944.3 932.1H965.3A10 10 0 0 1 975.3 942.1V952.94A10 10 0 0 1 965.3 962.94H944.3V932.1ZM949.9 937.1H963.06A6.64 6.64 0 0 1 969.7 943.74V951.3A6.64 6.64 0 0 1 963.06 957.94H949.9V937.1Z" fill="#0d0d0d" fill-rule="evenodd"/><path d="M960.34 960.94L967.14 960.94L976.7 983.5L969.9 983.5Z" fill="#0d0d0d"/><path d="M987.1 932.1H992.7V983.5H987.1Z" fill="#0d0d0d"/><path d="M987.1 932.1H1015.3V937.1H987.1Z" fill="#0d0d0d"/><path d="M987.1 978.5H1015.3V983.5H987.1Z" fill="#0d0d0d"/><path d="M987.1 954.79H1012.8V959.79H987.1Z" fill="#0d0d0d"/><path d="M1026.1 932.1H1031.7V983.5H1026.1Z" fill="#0d0d0d"/><path d="M1026.1 932.1H1053.7V937.1H1026.1Z" fill="#0d0d0d"/><path d="M1026.1 978.5H1053.7V983.5H1026.1Z" fill="#0d0d0d"/><path d="M1026.1 954.79H1051.2V959.79H1026.1Z" fill="#0d0d0d"/><path d="M1064.2 932.1H1069.8V983.5H1064.2Z" fill="#0d0d0d"/><path d="M1092.8 932.1H1098.4V983.5H1092.8Z" fill="#0d0d0d"/><path d="M1064.2 932.1L1070.61 932.1L1098.4 983.5L1091.99 983.5Z" fill="#0d0d0d"/><path d="M154.7 746.1H167.4A14 14 0 0 1 181.4 760.1V796.1A14 14 0 0 1 167.4 810.1H154.7A14 14 0 0 1 140.7 796.1V760.1A14 14 0 0 1 154.7 746.1ZM157.15 754.3H164.95A6.65 6.65 0 0 1 171.6 760.95V767.55A6.65 6.65 0 0 1 164.95 774.2H157.15A6.65 6.65 0 0 1 150.5 767.55V760.95A6.65 6.65 0 0 1 157.15 754.3ZM157.15 782H164.95A6.65 6.65 0 0 1 171.6 788.65V795.25A6.65 6.65 0 0 1 164.95 801.9H157.15A6.65 6.65 0 0 1 150.5 795.25V788.65A6.65 6.65 0 0 1 157.15 782Z" fill="#0d0d0d" fill-rule="evenodd"/><path d="M139.7 765.94H156.98V789.62H139.7Z" fill="#ffffff"/><path d="M182.4 771.1L179.7 777.1L179.7 779.1L182.4 785.1Z" fill="#ffffff"/><path d="M195.2 810.1V768.3A10.5 10.5 0 0 1 205.7 757.8H210.5V763.4H205.5A3.5 3.5 0 0 0 202 766.9V810.1Z" fill="#0d0d0d"/><path d="M188.9 772.4H210.5V778.4H188.9Z" fill="#0d0d0d"/><path d="M218.7 763.5H225.5V800.4A3.5 3.5 0 0 0 229 803.9H235.3V810.1H229.2A10.5 10.5 0 0 1 218.7 799.6Z" fill="#0d0d0d"/><path d="M213.5 772.4H235.3V778.4H213.5Z" fill="#0d0d0d"/><path d="M587.05 766.26V760.1A9.34 9.34 0 0 1 596.4 750.75H607.2A9.34 9.34 0 0 1 616.55 760.1V765.94Q616.55 771.94 611.55 775.94L592.05 791.06Q587.05 795.06 587.05 801.06V808.1" fill="none" stroke="#0d0d0d" stroke-width="9.31" stroke-linecap="butt" stroke-linejoin="miter"/><path d="M582.4 801.9H621.2V810.1H582.4Z" fill="#0d0d0d"/><path d="M645 746.1H657.3A14 14 0 0 1 671.3 760.1V796.1A14 14 0 0 1 657.3 810.1H645A14 14 0 0 1 631 796.1V760.1A14 14 0 0 1 645 746.1ZM647.45 754.3H654.85A6.65 6.65 0 0 1 661.5 760.95V767.55A6.65 6.65 0 0 1 654.85 774.2H647.45A6.65 6.65 0 0 1 640.8 767.55V760.95A6.65 6.65 0 0 1 647.45 754.3ZM647.45 782H654.85A6.65 6.65 0 0 1 661.5 788.65V795.25A6.65 6.65 0 0 1 654.85 801.9H647.45A6.65 6.65 0 0 1 640.8 795.25V788.65A6.65 6.65 0 0 1 647.45 782Z" fill="#0d0d0d" fill-rule="evenodd"/><path d="M630 765.94H647.12V789.62H630Z" fill="#ffffff"/><path d="M672.3 771.1L669.6 777.1L669.6 779.1L672.3 785.1Z" fill="#ffffff"/><path d="M685.5 810.1V768.3A10.5 10.5 0 0 1 696 757.8H700.5V763.4H695.8A3.5 3.5 0 0 0 692.3 766.9V810.1Z" fill="#0d0d0d"/><path d="M679.2 772.4H700.5V778.4H679.2Z" fill="#0d0d0d"/><path d="M708.5 763.5H715.3V800.4A3.5 3.5 0 0 0 718.8 803.9H725.7V810.1H719A10.5 10.5 0 0 1 708.5 799.6Z" fill="#0d0d0d"/><path d="M703.3 772.4H725.7V778.4H703.3Z" fill="#0d0d0d"/><path d="M1080.5 746.1H1090.3V810.1H1080.5Z" fill="#0d0d0d"/><path d="M1067.1 754L1081.5 746.1L1081.5 755.4L1068 762.8Z" fill="#0d0d0d"/><path d="M1117.2 746.1H1130.4A14 14 0 0 1 1144.4 760.1V796.1A14 14 0 0 1 1130.4 810.1H1117.2A14 14 0 0 1 1103.2 796.1V760.1A14 14 0 0 1 1117.2 746.1ZM1117.2 754.3H1130.4A4.2 4.2 0 0 1 1134.6 758.5V797.7A4.2 4.2 0 0 1 1130.4 801.9H1117.2A4.2 4.2 0 0 1 1113 797.7V758.5A4.2 4.2 0 0 1 1117.2 754.3Z" fill="#0d0d0d" fill-rule="evenodd"/><path d="M1158.4 810.1V768.3A10.5 10.5 0 0 1 1168.9 757.8H1174.3V763.4H1168.7A3.5 3.5 0 0 0 1165.2 766.9V810.1Z" fill="#0d0d0d"/><path d="M1152.1 772.4H1174.3V778.4H1152.1Z" fill="#0d0d0d"/><path d="M1181.2 763.5H1188V800.4A3.5 3.5 0 0 0 1191.5 803.9H1199V810.1H1191.7A10.5 10.5 0 0 1 1181.2 799.6Z" fill="#0d0d0d"/><path d="M1176 772.4H1199V778.4H1176Z" fill="#0d0d0d"/><path d="M2077.6 746.1H2054.5A14 14 0 0 0 2040.5 760.1V796.1A14 14 0 0 0 2054.5 810.1H2067.2A14 14 0 0 0 2081.2 796.1V784.74A14 14 0 0 0 2067.2 770.74H2050.3V758.5A4.2 4.2 0 0 1 2054.5 754.3H2077.6Z" fill="#0d0d0d"/><path d="M2054.5 778.94H2067.2A4.2 4.2 0 0 1 2071.4 783.14V797.7A4.2 4.2 0 0 1 2067.2 801.9H2054.5A4.2 4.2 0 0 1 2050.3 797.7V783.14A4.2 4.2 0 0 1 2054.5 778.94Z" fill="#ffffff"/><path d="M2119.46 746.1H2128.69V810.1H2119.46Z" fill="#0d0d0d"/><path d="M2090.4 789.62H2137.5V798H2090.4Z" fill="#0d0d0d"/><path d="M2114.33 746.1L2125.25 746.1L2101.33 790.26L2090.4 790.26Z" fill="#0d0d0d"/><path d="M2148.4 810.1V768.3A10.5 10.5 0 0 1 2158.9 757.8H2163.4V763.4H2158.7A3.5 3.5 0 0 0 2155.2 766.9V810.1Z" fill="#0d0d0d"/><path d="M2142.1 772.4H2163.4V778.4H2142.1Z" fill="#0d0d0d"/><path d="M2171.4 763.5H2178.2V800.4A3.5 3.5 0 0 0 2181.7 803.9H2188.6V810.1H2181.9A10.5 10.5 0 0 1 2171.4 799.6Z" fill="#0d0d0d"/><path d="M2166.2 772.4H2188.6V778.4H2166.2Z" fill="#0d0d0d"/></svg></body></html>
